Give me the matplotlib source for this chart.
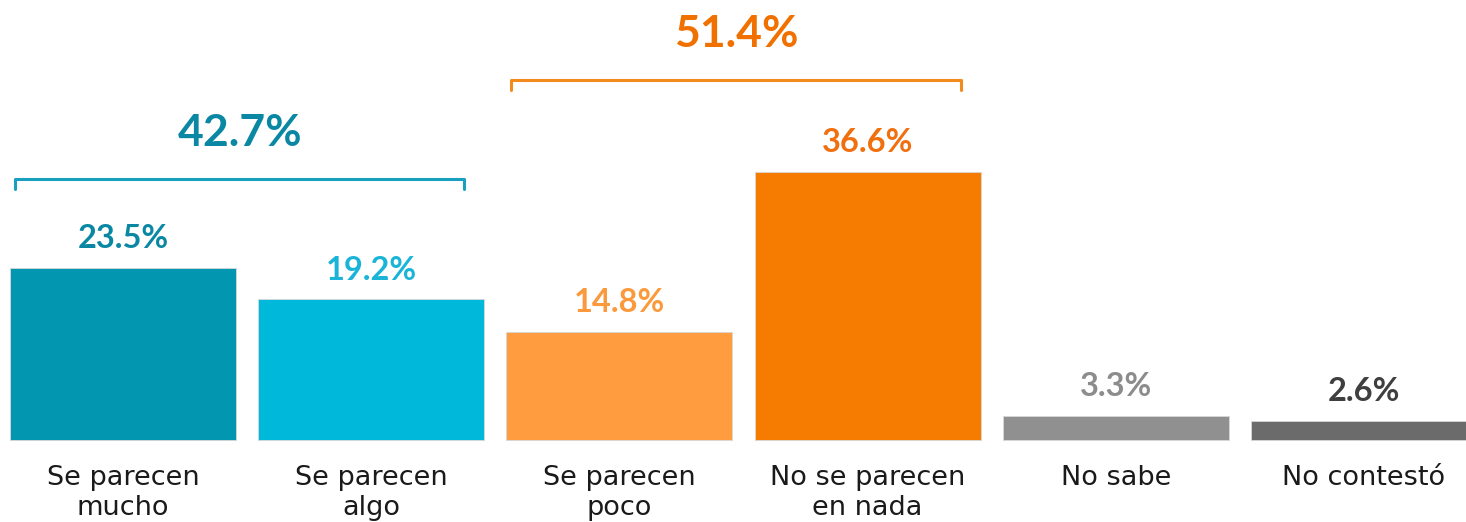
import matplotlib
matplotlib.use('agg')
import matplotlib.pyplot as plt

categories = ["Se parecen\nmucho", "Se parecen\nalgo", "Se parecen\npoco",
              "No se parecen\nen nada", "No sabe", "No contestó"]
values = [23.5, 19.2, 14.8, 36.6, 3.3, 2.6]
bar_colors = ["#0396b1", "#00b8d9", "#ff9c3f", "#f57c00", "#909090", "#6b6b6b"]
label_colors = ["#0a88a3", "#1ab4d8", "#fa9a3c", "#f07010", "#8c8c8c", "#3f3f3f"]

# grouped totals: (first bar, last bar, total, colour of text, colour of bracket, bracket height)
groups = [
    (0, 1, 42.7, "#0a88a3", "#1aa0bf", 35.66),
    (2, 3, 51.4, "#f07000", "#f28a1c", 49.2),
]

plt.rcParams['font.family'] = ['Lato', 'DejaVu Sans']

fig = plt.figure(figsize=(14.66, 5.22), dpi=100)
ax = fig.add_axes([0, 0, 1, 1])

x = list(range(len(values)))
ax.bar(x, values, width=0.91, color=bar_colors, edgecolor="#d8d8d8", linewidth=0.6)

for xi, v, c in zip(x, values, label_colors):
    ax.text(xi, v + 4.0, "{:.1f}%".format(v), ha="center", va="center",
            fontsize=23.5, fontweight="bold", color=c)

for xi, cat in zip(x, categories):
    ax.text(xi, -3.4, cat, ha="center", va="top", fontsize=19.5,
            color="#1a1a1a", linespacing=1.22, family="DejaVu Sans")

for a, b, tot, tc, bc, h in groups:
    left = a - 0.435
    right = b + 0.375
    ax.plot([left, left, right, right], [h - 1.4, h, h, h - 1.4],
            color=bc, lw=2.2, solid_capstyle="round", solid_joinstyle="round")
    ax.text((left + right) / 2, h + 6.3, "{:.1f}%".format(tot), ha="center",
            va="center", fontsize=32, fontweight="bold", color=tc)

ax.set_xlim(-0.4956, 5.411)
ax.set_ylim(-11.2, 60.1)
ax.axis("off")

fig.savefig("out.png", dpi=100)
